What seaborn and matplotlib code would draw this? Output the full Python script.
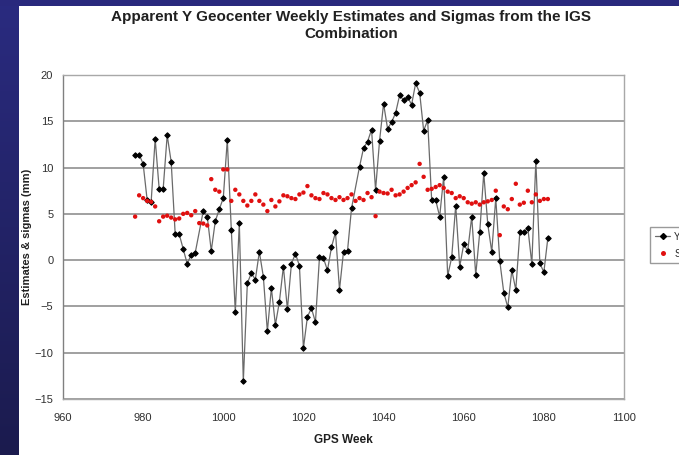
import numpy as np
import pandas as pd
import matplotlib
matplotlib.use("Agg")
import matplotlib.pyplot as plt
from matplotlib.colors import LinearSegmentedColormap
from matplotlib.lines import Line2D
from matplotlib.patches import Rectangle
import seaborn as sns

# Weekly apparent Y geocenter estimates (mm)
est_weeks = [978, 979, 980, 981, 982, 983, 984, 985, 986, 987, 988, 989, 990, 991, 992, 993,
             995, 996, 997, 998, 999, 1000, 1001, 1002, 1003, 1004, 1005, 1006, 1007, 1008,
             1009, 1010, 1011, 1012, 1013, 1014, 1015, 1016, 1017, 1018, 1019, 1020, 1021,
             1022, 1023, 1024, 1025, 1026, 1027, 1028, 1029, 1030, 1031, 1032, 1034, 1035,
             1036, 1037, 1038, 1039, 1040, 1041, 1042, 1043, 1044, 1045, 1046, 1047, 1048,
             1049, 1050, 1051, 1052, 1053, 1054, 1055, 1056, 1057, 1058, 1059, 1060, 1061,
             1062, 1063, 1064, 1065, 1066, 1067, 1068, 1069, 1070, 1071, 1072, 1073, 1074,
             1075, 1076, 1077, 1078, 1079, 1080, 1081]
est_values = [11.4, 11.4, 10.4, 6.5, 6.3, 13.1, 7.7, 7.7, 13.5, 10.6, 2.8, 2.8, 1.2, -0.4, 0.6, 0.8,
              5.3, 4.7, 1.0, 4.2, 5.5, 6.7, 13.0, 3.3, -5.6, 4.0, -13.1, -2.5, -1.4, -2.1,
              0.9, -1.8, -7.7, -3.0, -7.0, -4.5, -0.7, -5.3, -0.4, 0.7, -0.6, -9.5, -6.1,
              -5.2, -6.7, 0.3, 0.2, -1.1, 1.4, 3.0, -3.2, 0.9, 1.0, 5.6, 10.1, 12.1,
              12.8, 14.1, 7.6, 12.9, 16.9, 14.2, 14.9, 15.9, 17.8, 17.3, 17.6, 16.8, 19.1,
              18.1, 14.0, 15.1, 6.5, 6.5, 4.7, 9.0, -1.7, 0.3, 5.9, -0.7, 1.7, 1.0,
              4.7, -1.6, 3.0, 9.4, 3.9, 0.9, 6.7, -0.1, -3.5, -5.1, -1.1, -3.2, 3.0,
              3.0, 3.5, -0.4, 10.75, -0.35, -1.3, 2.4]

# Weekly sigmas (mm)
sig_weeks = list(range(978, 1082))
sig_values = [4.7, 7.0, 6.7, 6.4, 6.3, 5.8, 4.2, 4.7, 4.8, 4.6, 4.4, 4.5, 5.0, 5.1, 4.85, 5.3,
              4.0, 3.95, 3.75, 8.75, 7.6, 7.4, 9.8, 9.8, 6.4, 7.6, 7.1, 6.4, 5.9, 6.4,
              7.1, 6.4, 6.0, 5.3, 6.5, 5.8, 6.35, 7.0, 6.9, 6.7, 6.6, 7.1, 7.3, 8.0,
              7.0, 6.7, 6.6, 7.25, 7.1, 6.7, 6.5, 6.8, 6.5, 6.7, 7.1, 6.4, 6.7, 6.5,
              7.25, 6.8, 4.75, 7.4, 7.25, 7.2, 7.6, 7.0, 7.1, 7.4, 7.8, 8.1, 8.4, 10.4,
              9.0, 7.6, 7.7, 7.9, 8.1, 7.8, 7.4, 7.25, 6.7, 6.9, 6.7, 6.25, 6.1, 6.25,
              6.0, 6.25, 6.35, 6.5, 7.5, 2.7, 5.8, 5.5, 6.6, 8.25, 6.0, 6.2, 7.5, 6.25,
              7.1, 6.4, 6.6, 6.6]

x_ticks = [960, 980, 1000, 1020, 1040, 1060, 1080, 1100]
y_ticks = [-15, -10, -5, 0, 5, 10, 15, 20]
legend_labels = ["Y", "Sigma"]

sns.set_theme(style="white")
plt.rcParams["font.family"] = ["Liberation Sans", "DejaVu Sans"]

est_df = pd.DataFrame({"week": est_weeks, "value": est_values})
sig_df = pd.DataFrame({"week": sig_weeks, "value": sig_values})

W, H = 679, 455
fig = plt.figure(figsize=(W / 100, H / 100 + 0.0001), dpi=100, facecolor="white")

# slide background: navy strip on the left and a thin band along the top
navy = LinearSegmentedColormap.from_list("navy", ["#2a2b80", "#1b1b4e"])
band = fig.add_axes([0, 0, 19 / W, 1])
band.imshow(np.linspace(0, 1, 256).reshape(-1, 1), aspect="auto", cmap=navy)
band.set_axis_off()
fig.add_artist(Rectangle((0, 1 - 6 / H), 1, 6 / H, transform=fig.transFigure,
                         facecolor="#29297d", edgecolor="none", zorder=5))

ax = fig.add_axes([63 / W, 1 - 399 / H, 561 / W, 324 / H])
ax.set_facecolor("white")

sns.lineplot(data=est_df, x="week", y="value", ax=ax, color="#6a6a6a", lw=0.9,
             marker="D", markersize=2.8, markerfacecolor="black",
             markeredgecolor="black", zorder=3)
sns.scatterplot(data=sig_df, x="week", y="value", ax=ax, color="#e01010",
                s=10, edgecolor="none", zorder=4)

ax.set_xlim(960, 1100)
ax.set_ylim(-15, 20)
ax.set_xticks(x_ticks)
ax.set_yticks(y_ticks)
ax.yaxis.grid(True, color="#a0a0a0", lw=1.4)
ax.xaxis.grid(False)
for s in ax.spines.values():
    s.set_color("#a8a8a8")
    s.set_linewidth(1.0)
ax.spines["left"].set_color("#808080")
ax.tick_params(axis="y", direction="out", length=4, width=1, color="#808080",
               labelsize=8, labelcolor="#303030", pad=3)
ax.tick_params(axis="x", direction="out", length=0, labelsize=8,
               labelcolor="#303030", pad=10)
ax.set_xlabel("GPS Week", fontsize=8.5, fontweight="bold", color="#202020", labelpad=8)
ax.set_ylabel("Estimates & sigmas (mm)", fontsize=8, fontweight="bold",
              color="#202020")
ax.yaxis.set_label_coords(-31 / 561, 0.5)

title_kw = dict(ha="center", va="center", fontsize=11, fontweight="bold", color="#202020")
fig.text(351 / W, 1 - 17 / H,
         "Apparent Y Geocenter Weekly Estimates and Sigmas from the IGS", **title_kw)
fig.text(351 / W, 1 - 34 / H, "Combination", **title_kw)

handles = [
    Line2D([], [], color="#6a6a6a", lw=0.9, marker="D", markersize=3,
           markerfacecolor="black", markeredgecolor="black"),
    Line2D([], [], color="none", marker="o", markersize=3.6,
           markerfacecolor="#e01010", markeredgecolor="none"),
]
fig.legend(handles, legend_labels, loc="upper left",
           bbox_to_anchor=(645 / W, 1 - 222 / H), fontsize=7, frameon=True,
           edgecolor="#9a9a9a", fancybox=False, handlelength=1.6,
           handletextpad=0.4, borderpad=0.5, labelspacing=0.7, framealpha=1)

fig.savefig("out.png", dpi=100, facecolor="white")
